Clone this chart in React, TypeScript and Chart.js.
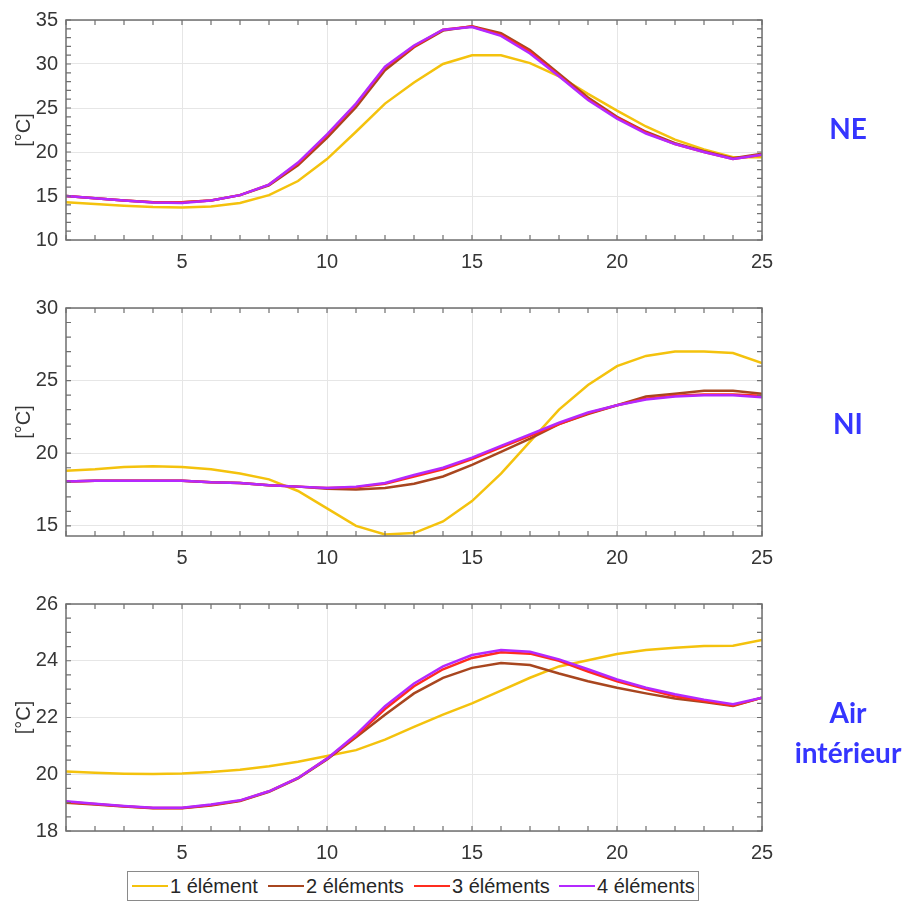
import React, { useEffect, useRef } from "react";
import { Chart, registerables } from "chart.js";
Chart.register(...registerables);

const hours = [1, 2, 3, 4, 5, 6, 7, 8, 9, 10, 11, 12, 13, 14, 15, 16, 17, 18, 19, 20, 21, 22, 23, 24, 25];
const xTickValues = [5, 10, 15, 20, 25];
const seriesNames = ["1 élément", "2 éléments", "3 éléments", "4 éléments"];
const seriesColors = ["#F4C20D", "#A8461F", "#FF2D1F", "#B429FF"];

const neOne = [14.3, 14.1, 13.9, 13.75, 13.7, 13.8, 14.2, 15.1, 16.7, 19.2, 22.3, 25.5, 27.9, 30.0, 31.0, 31.0, 30.1, 28.6, 26.6, 24.7, 22.9, 21.4, 20.3, 19.4, 19.4];
const neTwo = [15.0, 14.75, 14.5, 14.3, 14.3, 14.5, 15.1, 16.2, 18.5, 21.6, 25.1, 29.3, 31.9, 33.8, 34.3, 33.5, 31.6, 28.9, 26.2, 24.0, 22.3, 21.0, 20.1, 19.3, 19.8];
const neThree = [15.0, 14.75, 14.5, 14.3, 14.3, 14.5, 15.1, 16.3, 18.7, 21.9, 25.4, 29.6, 32.0, 33.9, 34.25, 33.3, 31.4, 28.7, 26.0, 23.9, 22.2, 20.9, 20.0, 19.2, 19.7];
const neFour = [15.0, 14.75, 14.5, 14.25, 14.2, 14.5, 15.1, 16.3, 18.8, 22.0, 25.5, 29.7, 32.1, 33.9, 34.2, 33.2, 31.2, 28.6, 25.9, 23.8, 22.1, 20.9, 20.0, 19.2, 19.7];

const niOne = [18.8, 18.9, 19.05, 19.1, 19.05, 18.9, 18.6, 18.2, 17.4, 16.2, 15.0, 14.4, 14.5, 15.3, 16.7, 18.6, 20.8, 23.0, 24.7, 26.0, 26.7, 27.0, 27.0, 26.9, 26.2];
const niTwo = [18.05, 18.1, 18.1, 18.1, 18.1, 18.0, 17.95, 17.8, 17.7, 17.55, 17.5, 17.6, 17.9, 18.4, 19.2, 20.1, 21.0, 22.0, 22.7, 23.3, 23.9, 24.1, 24.3, 24.3, 24.1];
const niThree = [18.05, 18.1, 18.1, 18.1, 18.1, 18.0, 17.95, 17.8, 17.7, 17.6, 17.65, 17.9, 18.4, 18.9, 19.6, 20.4, 21.2, 22.0, 22.75, 23.3, 23.75, 23.95, 24.05, 24.05, 23.95];
const niFour = [18.05, 18.1, 18.1, 18.1, 18.1, 18.0, 17.95, 17.8, 17.7, 17.6, 17.7, 17.95, 18.5, 19.0, 19.7, 20.5, 21.3, 22.1, 22.8, 23.3, 23.7, 23.9, 24.0, 24.0, 23.85];

const airOne = [20.1, 20.05, 20.02, 20.01, 20.03, 20.08, 20.16, 20.28, 20.44, 20.64, 20.85, 21.22, 21.67, 22.1, 22.5, 22.95, 23.4, 23.8, 24.02, 24.24, 24.38, 24.46, 24.52, 24.53, 24.73];
const airTwo = [19.0, 18.93, 18.86, 18.8, 18.8, 18.9, 19.06, 19.38, 19.85, 20.52, 21.3, 22.1, 22.85, 23.4, 23.75, 23.92, 23.85, 23.55, 23.28, 23.05, 22.85, 22.67, 22.55, 22.41, 22.7];
const airThree = [19.02, 18.95, 18.87, 18.81, 18.81, 18.92, 19.07, 19.4, 19.87, 20.55, 21.35, 22.3, 23.1, 23.7, 24.1, 24.3, 24.25, 24.0, 23.62, 23.28, 23.0, 22.75, 22.58, 22.42, 22.7];
const airFour = [19.05, 18.96, 18.88, 18.82, 18.82, 18.93, 19.08, 19.4, 19.87, 20.55, 21.4, 22.4, 23.2, 23.8, 24.2, 24.38, 24.32, 24.05, 23.7, 23.34, 23.05, 22.82, 22.63, 22.47, 22.7];

const neTicks = [10, 15, 20, 25, 30, 35];
const niTicks = [15, 20, 25, 30];
const airTicks = [18, 20, 22, 24, 26];

const FONT = "'Liberation Sans', Arial, sans-serif";
const AXIS_COLOR = "#6f6f6f";
const TEXT_COLOR = "#363636";

const framePlugin = {
  id: "frame",
  afterDraw(chart: any, _args: any, opts: any) {
    const { ctx, chartArea: a, scales } = chart;
    const x = scales.x;
    const y = scales.y;
    ctx.save();
    ctx.strokeStyle = AXIS_COLOR;
    ctx.lineWidth = 1.5;
    ctx.strokeRect(a.left, a.top, a.right - a.left, a.bottom - a.top);
    const len = 5;
    ctx.lineWidth = 1.2;
    ctx.beginPath();
    for (let v = x.min; v <= x.max + 1e-6; v += opts.xStep) {
      const px = x.getPixelForValue(v);
      ctx.moveTo(px, a.bottom);
      ctx.lineTo(px, a.bottom - len);
      ctx.moveTo(px, a.top);
      ctx.lineTo(px, a.top + len);
    }
    const start = Math.ceil(y.min / opts.yStep - 1e-6) * opts.yStep;
    for (let v = start; v <= y.max + 1e-6; v += opts.yStep) {
      const py = y.getPixelForValue(v);
      ctx.moveTo(a.left, py);
      ctx.lineTo(a.left + len, py);
      ctx.moveTo(a.right, py);
      ctx.lineTo(a.right - len, py);
    }
    ctx.stroke();
    ctx.restore();
  },
};

type PanelProps = {
  top: number;
  height: number;
  padTop: number;
  series: number[][];
  yMin: number;
  yMax: number;
  yTicks: number[];
  yStep: number;
};

function Panel({ top, height, padTop, series, yMin, yMax, yTicks, yStep }: PanelProps) {
  const ref = useRef<HTMLCanvasElement>(null);
  useEffect(() => {
    if (!ref.current) return;
    const chart = new Chart(ref.current, {
      type: "line",
      data: {
        datasets: series.map((vals, i) => ({
          label: seriesNames[i],
          data: hours.map((h, k) => ({ x: h, y: vals[k] })),
          borderColor: seriesColors[i],
          backgroundColor: seriesColors[i],
          borderWidth: 2.5,
          pointRadius: 0,
          tension: 0,
          order: 4 - i,
        })),
      },
      options: {
        responsive: false,
        animation: false,
        devicePixelRatio: 1,
        layout: { padding: { top: padTop, right: 38, left: 0, bottom: 0 } },
        plugins: {
          legend: { display: false },
          tooltip: { enabled: false },
          frame: { xStep: 1, yStep },
        } as any,
        scales: {
          x: {
            type: "linear",
            min: 1,
            max: 25,
            afterBuildTicks: (s: any) => {
              s.ticks = xTickValues.map((v) => ({ value: v }));
            },
            afterFit: (s: any) => {
              s.height = 40;
            },
            grid: { color: "#e6e6e6", lineWidth: 1, drawTicks: false },
            border: { display: false },
            ticks: {
              padding: 10,
              color: TEXT_COLOR,
              font: { family: FONT, size: 20 },
              maxRotation: 0,
              autoSkip: false,
            },
          },
          y: {
            type: "linear",
            min: yMin,
            max: yMax,
            afterBuildTicks: (s: any) => {
              s.ticks = yTicks.map((v) => ({ value: v }));
            },
            afterFit: (s: any) => {
              s.width = 66;
            },
            grid: { color: "#e6e6e6", lineWidth: 1, drawTicks: false },
            border: { display: false },
            ticks: {
              padding: 8,
              color: TEXT_COLOR,
              font: { family: FONT, size: 20 },
              autoSkip: false,
            },
            title: {
              display: true,
              text: "[°C]",
              color: TEXT_COLOR,
              font: { family: FONT, size: 20 },
              padding: { top: 12, bottom: 0 },
            },
          },
        },
      },
      plugins: [framePlugin],
    });
    return () => chart.destroy();
  }, []);
  return (
    <canvas
      ref={ref}
      width={800}
      height={height}
      style={{ position: "absolute", left: 0, top, width: 800, height }}
    />
  );
}

const labelStyle: React.CSSProperties = {
  position: "absolute",
  width: 150,
  left: 773,
  textAlign: "center",
  color: "#3535FF",
  fontFamily: "Lato, 'Open Sans', sans-serif",
  fontWeight: 700,
  fontSize: 28,
  lineHeight: "40px",
};

const legendOffsets = [4, 140, 286, 431];

export default function App() {
  return (
    <div style={{ position: "absolute", left: 0, top: 0, width: 910, height: 901, background: "#fff", overflow: "hidden" }}>
      <Panel top={0} height={280} padTop={14} series={[neOne, neTwo, neThree, neFour]} yMin={10} yMax={35} yTicks={neTicks} yStep={1} />
      <Panel top={280} height={296} padTop={28} series={[niOne, niTwo, niThree, niFour]} yMin={14.3} yMax={30} yTicks={niTicks} yStep={1} />
      <Panel top={576} height={295} padTop={28} series={[airOne, airTwo, airThree, airFour]} yMin={18} yMax={26} yTicks={airTicks} yStep={0.5} />

      <div style={{ ...labelStyle, top: 108 }}>NE</div>
      <div style={{ ...labelStyle, top: 403 }}>NI</div>
      <div style={{ ...labelStyle, top: 692 }}>Air<br />intérieur</div>

      <div
        style={{
          position: "absolute",
          left: 127,
          top: 871,
          width: 570,
          height: 28,
          border: "1px solid #8a8a8a",
          background: "#fff",
          fontFamily: FONT,
          fontSize: 20,
          color: "#262626",
        }}
      >
        {seriesNames.map((name, i) => (
          <div key={name} style={{ position: "absolute", left: legendOffsets[i], top: 0, height: 28, display: "flex", alignItems: "center", whiteSpace: "nowrap" }}>
            <span style={{ display: "inline-block", width: 36, height: 2.5, background: seriesColors[i], marginRight: 2 }} />
            <span>{name}</span>
          </div>
        ))}
      </div>
    </div>
  );
}
